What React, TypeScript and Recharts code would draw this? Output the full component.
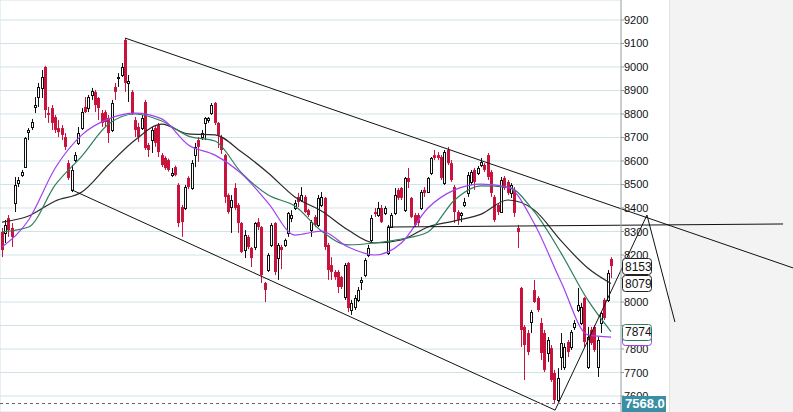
import React from 'react';
import {
  ComposedChart,
  Bar,
  Line,
  XAxis,
  YAxis,
  CartesianGrid,
  ReferenceLine,
} from 'recharts';

const RED = '#c8143c';
const PURPLE = '#a040f0';
const GREEN = '#2f7d5a';
const DARK = '#2a2a2a';

// daily candles: [open, high, low, close]
const candles: [number, number, number, number][] = [
  [8298, 8315, 8191, 8221], [8294, 8349, 8251, 8328], [8357, 8370, 8277, 8306], [8315, 8336, 8234, 8277],
  [8421, 8532, 8383, 8498], [8506, 8532, 8489, 8519], [8540, 8562, 8532, 8553], [8574, 8702, 8570, 8698],
  [8723, 8740, 8689, 8732], [8745, 8779, 8732, 8766], [8830, 8872, 8804, 8838], [8872, 8932, 8830, 8915],
  [8911, 8987, 8868, 8957], [9000, 9005, 8783, 8817], [8804, 8830, 8762, 8796], [8825, 8838, 8732, 8762],
  [8787, 8796, 8719, 8732], [8740, 8774, 8702, 8723], [8740, 8753, 8689, 8711], [8702, 8719, 8647, 8660],
  [8591, 8604, 8519, 8528], [8477, 8583, 8468, 8562], [8604, 8638, 8596, 8625], [8677, 8745, 8668, 8719],
  [8740, 8825, 8732, 8808], [8830, 8872, 8804, 8808], [8825, 8881, 8808, 8872], [8881, 8911, 8860, 8898],
  [8894, 8902, 8808, 8838], [8868, 8872, 8774, 8825], [8804, 8817, 8745, 8762], [8808, 8817, 8745, 8766],
  [8783, 8796, 8677, 8719], [8732, 8860, 8723, 8847], [8915, 8932, 8860, 8894], [8953, 8974, 8915, 8957],
  [8966, 9017, 8957, 9000], [9115, 9123, 8894, 8932], [8932, 8966, 8851, 8940], [8894, 8902, 8796, 8804],
  [8774, 8787, 8702, 8732], [8745, 8762, 8681, 8702], [8740, 8796, 8732, 8783], [8851, 8860, 8647, 8655],
  [8668, 8677, 8617, 8647], [8689, 8745, 8634, 8732], [8740, 8753, 8660, 8677], [8753, 8762, 8617, 8638],
  // second leg
  [8625, 8634, 8574, 8583], [8613, 8620, 8562, 8570], [8604, 8610, 8555, 8562], [8540, 8570, 8532, 8549],
  [8574, 8580, 8535, 8540], [8498, 8506, 8319, 8336], [8404, 8413, 8277, 8340], [8400, 8498, 8391, 8489],
  [8528, 8535, 8480, 8489], [8485, 8604, 8477, 8591], [8625, 8677, 8574, 8660], [8689, 8702, 8596, 8660],
  [8702, 8732, 8689, 8719], [8762, 8787, 8689, 8783], [8774, 8787, 8762, 8783], [8804, 8847, 8796, 8838],
  [8847, 8851, 8753, 8762], [8762, 8766, 8655, 8711], [8702, 8711, 8630, 8647], [8625, 8630, 8421, 8447],
  [8455, 8462, 8375, 8383], [8404, 8455, 8294, 8434], [8485, 8506, 8391, 8400], [8413, 8421, 8294, 8336],
  [8336, 8340, 8208, 8213], [8221, 8306, 8187, 8285], [8277, 8285, 8225, 8234], [8230, 8234, 8149, 8187],
  [8234, 8340, 8221, 8336], [8340, 8357, 8306, 8319], [8319, 8323, 8081, 8115], [8081, 8085, 8000, 8051],
  [8136, 8208, 8128, 8200], [8243, 8336, 8234, 8328], [8336, 8340, 8115, 8128], [8187, 8251, 8094, 8243],
  [8234, 8243, 8140, 8221], [8243, 8270, 8234, 8264], [8294, 8383, 8277, 8379], [8357, 8391, 8340, 8370],
  [8400, 8434, 8391, 8421], [8447, 8464, 8404, 8426], [8434, 8489, 8426, 8455], [8447, 8455, 8379, 8383],
  [8391, 8396, 8362, 8370], [8306, 8349, 8277, 8340], [8362, 8370, 8319, 8328], [8328, 8455, 8319, 8443],
  // third leg
  [8413, 8468, 8404, 8447], [8443, 8447, 8221, 8234], [8243, 8251, 8094, 8136], [8157, 8191, 8094, 8128],
  [8128, 8136, 8094, 8106], [8128, 8136, 8038, 8064], [8106, 8111, 8055, 8064], [8021, 8166, 8009, 8157],
  [8166, 8170, 7957, 7974], [7966, 8009, 7945, 7996], [7979, 8030, 7966, 8017], [8009, 8064, 8000, 8051],
  [8085, 8106, 8051, 8094], [8115, 8187, 8106, 8179], [8200, 8243, 8191, 8230], [8264, 8370, 8255, 8357],
  [8383, 8400, 8362, 8374], [8370, 8426, 8362, 8400], [8400, 8413, 8336, 8340], [8379, 8408, 8370, 8400],
  [8208, 8328, 8200, 8319], [8319, 8379, 8315, 8370], [8379, 8485, 8370, 8455], [8477, 8485, 8434, 8443],
  [8485, 8489, 8434, 8443], [8391, 8532, 8383, 8528], [8528, 8570, 8485, 8511], [8443, 8447, 8357, 8362],
  [8370, 8379, 8319, 8328], [8370, 8379, 8323, 8336], [8400, 8477, 8391, 8468], [8477, 8489, 8447, 8464],
  [8468, 8532, 8464, 8528], [8549, 8617, 8540, 8613], [8625, 8647, 8604, 8613], [8625, 8638, 8604, 8613],
  [8617, 8625, 8519, 8528], [8506, 8647, 8498, 8638], [8647, 8660, 8583, 8591], [8591, 8604, 8511, 8519],
  [8489, 8498, 8336, 8383], [8383, 8391, 8328, 8349], [8370, 8383, 8340, 8379], [8413, 8443, 8404, 8426],
  [8464, 8553, 8447, 8540], [8511, 8562, 8498, 8553],
  // last leg
  [8562, 8570, 8477, 8511], [8549, 8579, 8540, 8570], [8583, 8613, 8574, 8596], [8583, 8591, 8553, 8562],
  [8625, 8634, 8519, 8532], [8553, 8562, 8447, 8464], [8447, 8455, 8340, 8349], [8413, 8421, 8370, 8383],
  [8383, 8532, 8379, 8519], [8528, 8536, 8477, 8485], [8511, 8519, 8455, 8464], [8464, 8506, 8443, 8498],
  [8477, 8489, 8362, 8379], [8315, 8328, 8230, 8298], [8060, 8064, 7809, 7881], [7894, 7902, 7668, 7817],
  [7868, 7881, 7774, 7787], [7915, 7966, 7868, 7957], [8051, 8094, 7996, 8000], [8017, 8025, 7957, 7966],
  [7911, 7932, 7753, 7783], [7868, 7881, 7702, 7711], [7783, 7851, 7745, 7838], [7804, 7817, 7660, 7668],
  [7698, 7711, 7568, 7583], [7583, 7719, 7575, 7677], [7766, 7868, 7711, 7825], [7723, 7825, 7711, 7809],
  [7830, 7838, 7766, 7787], [7809, 7881, 7796, 7872], [7894, 7923, 7881, 7911], [7966, 8060, 7957, 7987],
  [7911, 7996, 7902, 7979], [8017, 8021, 7809, 7830], [7723, 7894, 7715, 7851], [7881, 7894, 7817, 7825],
  [7894, 7902, 7787, 7796], [7723, 7851, 7681, 7838], [7911, 7957, 7868, 7953], [8009, 8017, 7923, 7932],
  [8009, 8136, 8000, 8123], [8183, 8191, 8102, 8153],
];

// moving averages at these candle positions
const maIndex = [0, 8, 16, 24, 32, 40, 48, 56, 64, 72, 80, 88, 96, 104, 112, 120, 128, 136, 144, 152, 160, 168, 176, 183];
const maShort = [8234, 8349, 8570, 8711, 8779, 8804, 8779, 8668, 8625, 8545, 8421, 8285, 8302, 8234, 8200, 8251, 8400, 8477, 8502, 8489, 8332, 8085, 7860, 7851];
const maMid = [8298, 8319, 8498, 8621, 8757, 8800, 8770, 8706, 8685, 8549, 8455, 8408, 8302, 8243, 8251, 8268, 8298, 8434, 8494, 8489, 8383, 8208, 8009, 7874];
const maLong = [8340, 8366, 8430, 8468, 8583, 8689, 8757, 8715, 8711, 8638, 8549, 8447, 8387, 8306, 8251, 8264, 8319, 8345, 8374, 8434, 8391, 8260, 8145, 8079];

// hand-drawn trend lines: [[index, price], [index, price]]
const trendLines: [number, number][][] = [
  [[37, 9123], [237.7, 8145]],
  [[21, 8477], [166.2, 7540]],
  [[115.7, 8319], [234.7, 8332]],
  [[166.2, 7540], [193.8, 8370]],
  [[193.8, 8370], [202.2, 7915]],
];

const priceTicks = [7600, 7700, 7800, 7900, 8000, 8100, 8200, 8300, 8400, 8500, 8600, 8700, 8800, 8900, 9000, 9100, 9200];
// tick labels that sit fully under the price tags
const coveredTicks = [7900, 8100];
const lastClose = 8153;
const lastLong = 8079;
const lastMid = 7874;
const lastShort = 7851;
const lowest = 7568;

const gridX = Array.from({ length: 38 }, (_, k) => k * 5);

const rows = candles.map(([o, h, l, c], i) => ({ i, o, h, l, c, range: [l, h] }));

const maRows = maIndex.map((i, k) => ({
  i,
  maShort: maShort[k],
  maMid: maMid[k],
  maLong: maLong[k],
}));

const Candle = (props: any) => {
  const { x, y, width, height, payload } = props;
  if (!payload) return null;
  const { o, h, l, c } = payload;
  const top = Math.min(y, y + height);
  const span = Math.abs(height);
  const py = (v: number) => top + ((h - v) / (h - l || 1)) * span;
  const cx = Math.round(x + width / 2) + 0.5;
  const up = c > o;
  const bTop = py(Math.max(o, c));
  const bBot = py(Math.min(o, c));
  if (up) {
    const t = Math.round(bTop) + 0.5;
    const b = Math.max(Math.round(bBot) + 0.5, t + 1);
    return (
      <g>
        <line x1={cx} x2={cx} y1={top} y2={top + span} stroke="#111" />
        <rect x={cx - 1} y={t} width={2} height={b - t} fill="#fff" stroke="#111" />
      </g>
    );
  }
  return (
    <g>
      <line x1={cx} x2={cx} y1={top} y2={top + span} stroke={RED} />
      <rect x={cx - 1.5} y={bTop} width={3} height={Math.max(bBot - bTop, 1.5)} fill={RED} />
    </g>
  );
};

const PriceTick = (props: any) => {
  const { x, y, payload } = props;
  if (coveredTicks.includes(payload.value)) return null;
  return (
    <text x={x} y={y + 4} fontSize={11} fill="#111" fontFamily="Liberation Sans, Arial, sans-serif">
      {payload.value}
    </text>
  );
};

const PriceTag = (props: any) => {
  const { viewBox, text, border, fill = '#fff', color = '#111', w = 29, bold = false, r = 3 } = props;
  if (!viewBox) return null;
  const x = viewBox.x + viewBox.width + 1;
  const y = viewBox.y;
  return (
    <g>
      <rect x={x + 0.5} y={Math.round(y) - 8 + 0.5} width={w} height={16} rx={r} fill={fill} stroke={border} />
      <text
        x={x + 3}
        y={y + 4.5}
        fontSize={bold ? 13 : 12}
        fontWeight={bold ? 'bold' : 'normal'}
        fill={color}
        fontFamily="Liberation Sans, Arial, sans-serif"
      >
        {text}
      </text>
    </g>
  );
};

export default function App() {
  return (
    <div style={{ position: 'fixed', left: 0, top: 0, width: 793, height: 412, background: '#fff', overflow: 'hidden' }}>
      <div
        style={{
          position: 'absolute',
          left: 669,
          top: 0,
          width: 124,
          height: 412,
          background: '#f3f3f3',
          borderLeft: '1px solid #e2e2e2',
        }}
      />
      <div style={{ position: 'absolute', left: 0, top: 0 }}>
        <ComposedChart width={793} height={412} data={rows} margin={{ top: 0, right: 0, bottom: 0, left: 0 }}>
          <CartesianGrid stroke="#d0e3e9" strokeWidth={1} />
          <XAxis
            dataKey="i"
            type="number"
            domain={[-0.6, 186]}
            allowDataOverflow
            ticks={gridX}
            height={0}
            tick={false}
            axisLine={false}
            tickLine={false}
          />
          <YAxis
            orientation="right"
            width={172}
            type="number"
            domain={[7532, 9285]}
            allowDataOverflow
            ticks={priceTicks}
            interval={0}
            tickSize={3}
            tickMargin={0}
            axisLine={{ stroke: '#aaa' }}
            tickLine={{ stroke: '#999' }}
            tick={<PriceTick />}
          />
          <Line data={maRows} dataKey="maLong" type="monotone" stroke={DARK} strokeWidth={1.2} dot={false} activeDot={false} isAnimationActive={false} />
          <Line data={maRows} dataKey="maMid" type="monotone" stroke={GREEN} strokeWidth={1.2} dot={false} activeDot={false} isAnimationActive={false} />
          <Line data={maRows} dataKey="maShort" type="monotone" stroke={PURPLE} strokeWidth={1.2} dot={false} activeDot={false} isAnimationActive={false} />
          <Bar dataKey="range" barSize={3} shape={<Candle />} isAnimationActive={false} />
          {trendLines.map((seg, k) => (
            <ReferenceLine
              key={k}
              segment={[{ x: seg[0][0], y: seg[0][1] }, { x: seg[1][0], y: seg[1][1] }]}
              stroke="#111"
              strokeWidth={1}
              ifOverflow="visible"
            />
          ))}
          <ReferenceLine
            y={lowest}
            stroke="#666"
            strokeDasharray="3 3"
            zIndex={3000}
            label={<PriceTag text="7568.0" fill="#3a8ea5" border="#3a8ea5" color="#fff" w={43} r={0} bold />}
          />
          <ReferenceLine y={lastClose} stroke="none" zIndex={3000} label={<PriceTag text={String(lastClose)} border="#222" />} />
          <ReferenceLine y={lastLong} stroke="none" zIndex={3000} label={<PriceTag text={String(lastLong)} border="#222" />} />
          <ReferenceLine y={lastShort} stroke="none" zIndex={3000} label={<PriceTag text="" border={PURPLE} />} />
          <ReferenceLine y={lastMid} stroke="none" zIndex={3000} label={<PriceTag text={String(lastMid)} border={GREEN} />} />
        </ComposedChart>
      </div>
    </div>
  );
}
